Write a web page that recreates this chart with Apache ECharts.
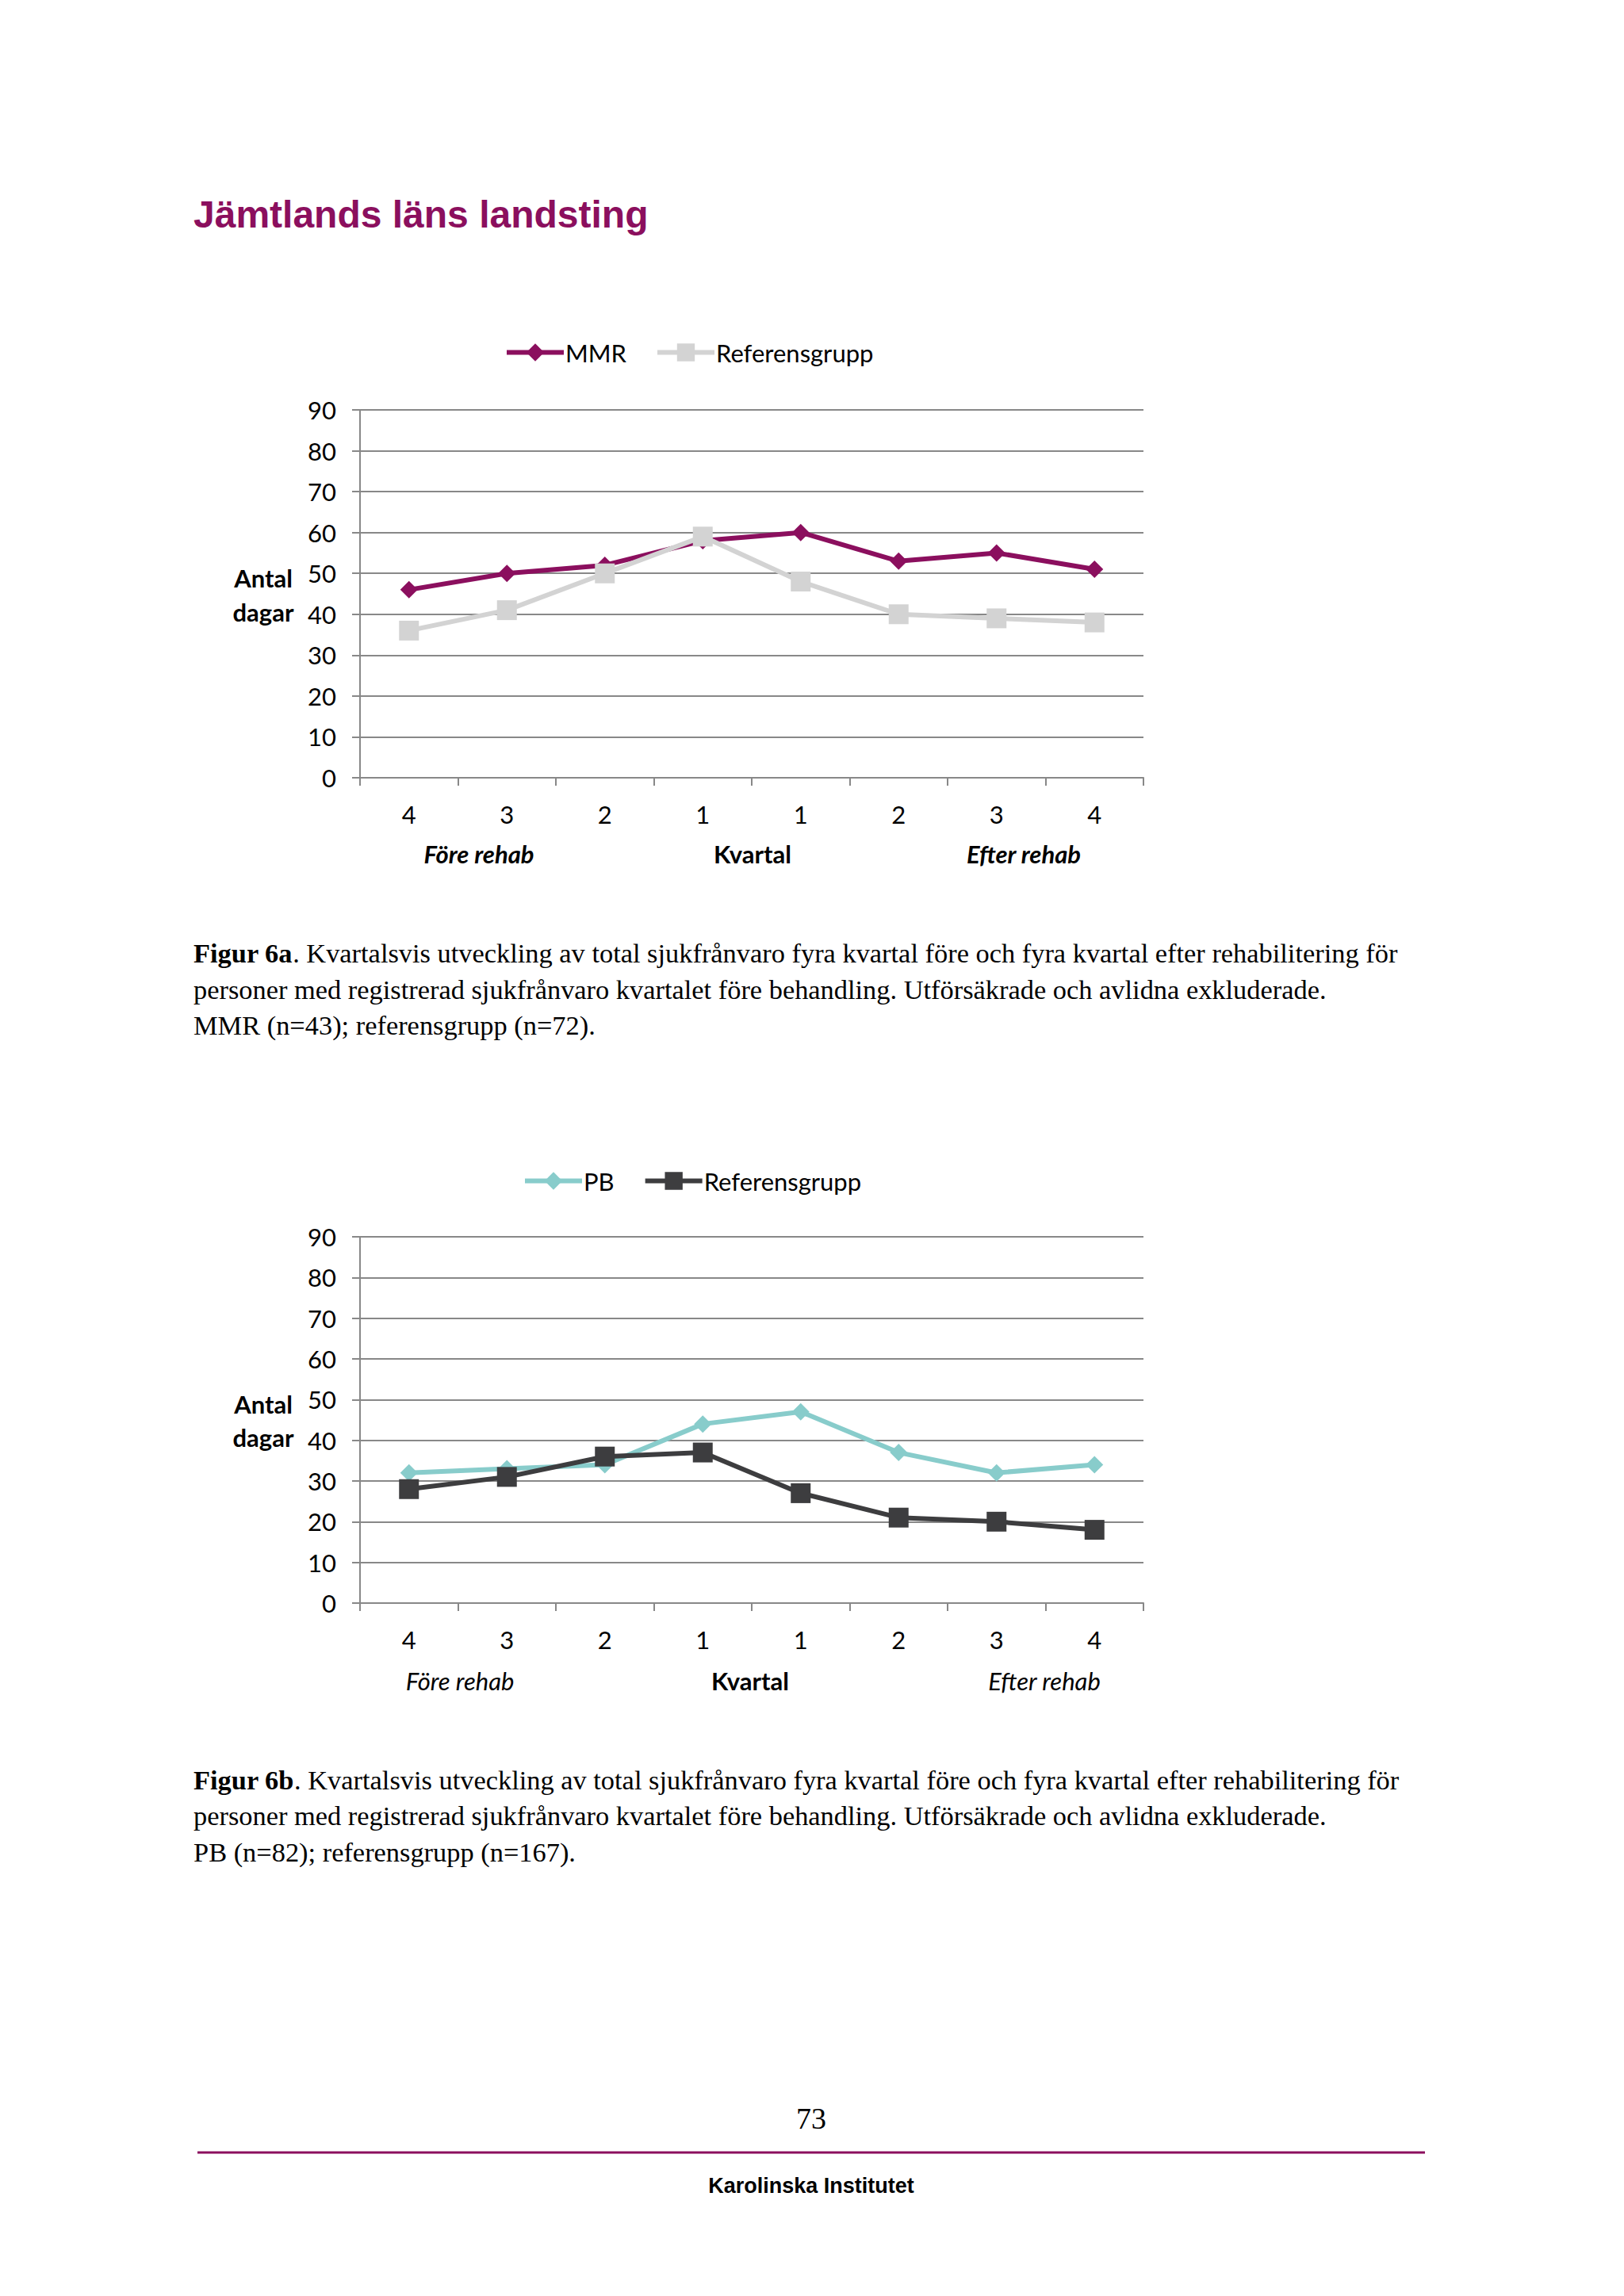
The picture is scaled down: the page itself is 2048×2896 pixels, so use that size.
<!DOCTYPE html>
<html>
<head>
<meta charset="utf-8">
<script src="https://cdn.jsdelivr.net/npm/echarts@6/dist/echarts.min.js"></script>
<style>
  html, body { margin: 0; padding: 0; background: #ffffff; }
  #page { width: 2048px; height: 2896px; }
</style>
</head>
<body>
<div id="page"></div>
<script>
// quarter labels, 4 before and 4 after rehab
const quarters = ["4", "3", "2", "1", "1", "2", "3", "4"];
const yTicks = { min: 0, max: 90, step: 10 };

// Figur 6a
const mmrValues = [46, 50, 52, 58, 60, 53, 55, 51];
const refAValues = [36, 41, 50, 59, 48, 40, 39, 38];

// Figur 6b
const pbValues = [32, 33, 34, 44, 47, 37, 32, 34];
const refBValues = [28, 31, 36, 37, 27, 21, 20, 18];

const purple = "#8b0f5e";
const axisGray = "#888888";
const sans = "Lato, 'Open Sans', sans-serif";
const serif = "'Liberation Serif', 'DejaVu Serif', serif";

function xAxisFor(gridIndex) {
  return {
    type: "category",
    gridIndex: gridIndex,
    data: quarters,
    boundaryGap: true,
    axisLine: { show: true, lineStyle: { color: axisGray, width: 2 } },
    axisTick: { show: true, length: 10, lineStyle: { color: axisGray, width: 2 } },
    axisLabel: { margin: 30, fontSize: 31, color: "#000", fontFamily: sans }
  };
}

function yAxisFor(gridIndex) {
  return {
    type: "value",
    gridIndex: gridIndex,
    min: yTicks.min,
    max: yTicks.max,
    interval: yTicks.step,
    axisLine: { show: true, lineStyle: { color: axisGray, width: 2 } },
    axisTick: { show: true, length: 10, lineStyle: { color: axisGray, width: 2 } },
    splitLine: { show: true, lineStyle: { color: axisGray, width: 2 } },
    axisLabel: { margin: 30, fontSize: 31, color: "#000", fontFamily: sans }
  };
}

function lineSeries(name, values, idx, color, symbol, size) {
  return {
    name: name,
    type: "line",
    xAxisIndex: idx,
    yAxisIndex: idx,
    data: values,
    symbol: symbol,
    symbolSize: size,
    showAllSymbol: true,
    lineStyle: { color: color, width: 6 },
    itemStyle: { color: color },
    animation: false
  };
}

function legendAt(names, left, top) {
  return {
    data: names,
    left: left,
    top: top,
    itemWidth: 72,
    itemHeight: 28,
    itemGap: 36,
    lineStyle: { width: 6 },
    textStyle: { fontSize: 31, color: "#000", fontFamily: sans, padding: [0, 0, 0, -3] }
  };
}

function text(x, y, str, opts) {
  return {
    type: "text",
    x: x,
    y: y,
    style: Object.assign({
      text: str,
      fill: "#000",
      font: "31px " + sans,
      align: "center",
      verticalAlign: "middle"
    }, opts || {})
  };
}

function captionLine(y, str) {
  return {
    type: "text",
    x: 244,
    y: y,
    style: {
      text: str,
      fill: "#000",
      fontFamily: serif,
      fontSize: 34.4,
      align: "left",
      verticalAlign: "middle",
      rich: { b: { fontWeight: "bold", fontFamily: serif, fontSize: 34.4 } }
    }
  };
}

const chart = echarts.init(document.getElementById("page"), null, { renderer: "svg" });

const option = {
  backgroundColor: "#ffffff",
  animation: false,
  legend: [
    legendAt(["MMR", "Referensgrupp "], 631, 424),
    legendAt(["PB", "Referensgrupp"], 654, 1469)
  ],
  grid: [
    { left: 454, top: 517, width: 988, height: 464 },
    { left: 454, top: 1560, width: 988, height: 462 }
  ],
  xAxis: [xAxisFor(0), xAxisFor(1)],
  yAxis: [yAxisFor(0), yAxisFor(1)],
  series: [
    lineSeries("MMR", mmrValues, 0, purple, "diamond", 22),
    lineSeries("Referensgrupp ", refAValues, 0, "#d3d3d3", "rect", 25),
    lineSeries("PB", pbValues, 1, "#88cccb", "diamond", 22),
    lineSeries("Referensgrupp", refBValues, 1, "#3d3d3f", "rect", 25)
  ],
  graphic: [
    text(244, 270, "Jämtlands läns landsting", {
      font: "bold 48px 'Liberation Sans', Arial, sans-serif", fill: purple, align: "left"
    }),

    // Figur 6a axis texts
    text(332, 729, "Antal", { font: "bold 31px " + sans }),
    text(332, 772, "dagar", { font: "bold 31px " + sans }),
    text(604, 1077, "Före rehab", { font: "italic bold 31px " + sans }),
    text(949, 1077, "Kvartal", { font: "bold 31px " + sans }),
    text(1291, 1077, "Efter rehab", { font: "italic bold 31px " + sans }),

    captionLine(1202, "{b|Figur 6a}. Kvartalsvis utveckling av total sjukfrånvaro fyra kvartal före och fyra kvartal efter rehabilitering för"),
    captionLine(1248, "personer med registrerad sjukfrånvaro kvartalet före behandling. Utförsäkrade och avlidna exkluderade."),
    captionLine(1293, "MMR (n=43); referensgrupp (n=72)."),

    // Figur 6b axis texts
    text(332, 1771, "Antal", { font: "bold 31px " + sans }),
    text(332, 1813, "dagar", { font: "bold 31px " + sans }),
    text(580, 2120, "Före rehab", { font: "italic 31px " + sans }),
    text(946, 2120, "Kvartal", { font: "bold 31px " + sans }),
    text(1317, 2120, "Efter rehab", { font: "italic 31px " + sans }),

    captionLine(2245, "{b|Figur 6b}. Kvartalsvis utveckling av total sjukfrånvaro fyra kvartal före och fyra kvartal efter rehabilitering för"),
    captionLine(2290, "personer med registrerad sjukfrånvaro kvartalet före behandling. Utförsäkrade och avlidna exkluderade."),
    captionLine(2336, "PB (n=82); referensgrupp (n=167)."),

    // footer
    text(1023, 2672, "73", { font: "38px " + serif }),
    {
      type: "line",
      shape: { x1: 249, y1: 2715, x2: 1797, y2: 2715 },
      style: { stroke: purple, lineWidth: 3 }
    },
    text(1023, 2757, "Karolinska Institutet", { font: "bold 27px 'Liberation Sans', Arial, sans-serif" })
  ]
};

chart.setOption(option);
window.addEventListener("resize", () => chart.resize());
</script>
</body>
</html>
